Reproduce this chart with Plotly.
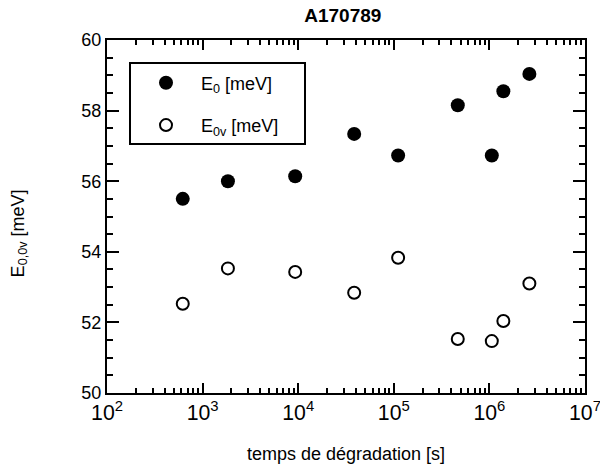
import plotly.graph_objects as go

# Data
t_s = [620, 1840, 9300, 38500, 111000, 467000, 1060000, 1400000, 2620000]
e0 = [55.50, 56.00, 56.14, 57.34, 56.73, 58.15, 56.73, 58.55, 59.04]
e0v = [52.53, 53.53, 53.43, 52.84, 53.83, 51.53, 51.47, 52.04, 53.10]

x_decades = [2, 3, 4, 5, 6, 7]          # 10^2 ... 10^7
y_tickvals = [50, 52, 54, 56, 58, 60]

FONT = "Liberation Sans, Arial, Helvetica, sans-serif"
PAD = "&nbsp;" * 4
EPS = 1e-4

fig = go.Figure()
fig.add_trace(go.Scatter(
    x=t_s, y=e0, mode="markers", name="E<sub>0</sub> [meV]" + PAD,
    legendgroup="a",
    marker=dict(symbol="circle", size=14, color="black", line=dict(width=0)),
))
fig.add_trace(go.Scatter(
    x=t_s, y=e0v, mode="markers", name="E<sub>0v</sub> [meV]" + PAD,
    legendgroup="b",
    marker=dict(symbol="circle-open", size=12, color="black", line=dict(width=2, color="black")),
))

fig.update_layout(
    width=600, height=464,
    margin=dict(l=107, r=15, t=40, b=71, pad=0, autoexpand=False),
    paper_bgcolor="white", plot_bgcolor="white",
    font=dict(family=FONT, size=17, color="black"),
    title=dict(text="<b>A170789</b>", x=296/600, xanchor="center", xref="paper",
               y=1 - 15/464, yanchor="middle", yref="container",
               font=dict(family=FONT, size=19, color="black")),
    showlegend=True,
    legend=dict(x=(129-107)/478, y=(392.7-62)/353.2, xanchor="left", yanchor="top",
                bordercolor="black", borderwidth=2, bgcolor="white",
                font=dict(family=FONT, size=18, color="black"),
                traceorder="grouped", tracegroupgap=16, itemwidth=60),
    xaxis=dict(
        type="log", range=[x_decades[0] - EPS, x_decades[-1] + EPS],
        tickmode="linear", tick0=x_decades[0], dtick=1,
        exponentformat="power", showexponent="all",
        ticklabeloverflow="allow",
        ticks="inside", ticklen=10, tickwidth=2, tickcolor="black",
        minor=dict(ticks="inside", ticklen=5, tickwidth=1.5, tickcolor="black",
                   dtick="D1", showgrid=False),
        showline=True, linewidth=2, linecolor="black", mirror="ticks",
        showgrid=False, zeroline=False, automargin=False,
        tickfont=dict(family=FONT, size=17, color="black"),
        title=dict(text="temps de dégradation [s]", font=dict(family=FONT, size=18, color="black"), standoff=27),
    ),
    yaxis=dict(
        range=[50, 60], tickvals=y_tickvals,
        ticks="inside", ticklen=12, tickwidth=2, tickcolor="black",
        minor=dict(ticks="inside", ticklen=6, tickwidth=1.5, tickcolor="black", dtick=0.5, showgrid=False),
        showline=True, linewidth=2, linecolor="black", mirror="ticks",
        showgrid=False, zeroline=False, automargin=False,
        tickfont=dict(family=FONT, size=18, color="black"),
    ),
    annotations=[dict(
        text="E<sub>0,0v</sub> [meV]", textangle=-90,
        xref="paper", yref="paper", x=(19-107)/478, y=(392.7-233)/353.2,
        xanchor="center", yanchor="middle", showarrow=False,
        font=dict(family=FONT, size=18, color="black"),
    )],
)

fig.write_html("out.html")
